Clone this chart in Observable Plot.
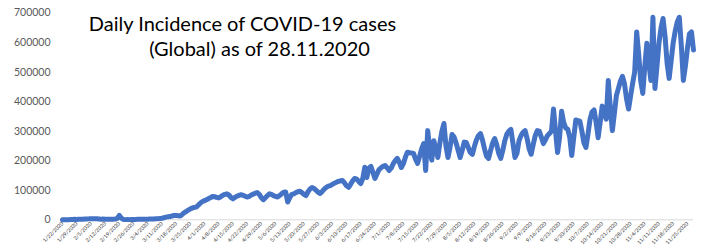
<!DOCTYPE html>
<html><head><meta charset="utf-8">
<script src="https://cdn.jsdelivr.net/npm/d3@7"></script>
<script src="https://cdn.jsdelivr.net/npm/@observablehq/plot@0.6"></script>
<style>html,body{margin:0;padding:0;background:#fff;}</style>
</head><body><div id="chart"></div>
<script>
const titleLines = ["Daily Incidence of COVID-19 cases", "(Global) as of 28.11.2020"];
const startDate = "2020-01-22";
const endDate = "2020-11-28";
const yTicks = [0, 100000, 200000, 300000, 400000, 500000, 600000, 700000];
const tickLabels = ["1/22/2020","1/29/2020","2/5/2020","2/12/2020","2/19/2020","2/26/2020","3/4/2020","3/11/2020","3/18/2020","3/25/2020","4/1/2020","4/8/2020","4/15/2020","4/22/2020","4/29/2020","5/6/2020","5/13/2020","5/20/2020","5/27/2020","6/3/2020","6/10/2020","6/17/2020","6/24/2020","7/1/2020","7/8/2020","7/15/2020","7/22/2020","7/29/2020","8/5/2020","8/12/2020","8/19/2020","8/26/2020","9/2/2020","9/9/2020","9/16/2020","9/23/2020","9/30/2020","10/7/2020","10/14/2020","10/21/2020","10/28/2020","11/4/2020","11/11/2020","11/18/2020","11/25/2020"];
// daily new cases, one per day from startDate
const cases = [
100,100,300,500,700,800,1500,1200,1700,2000,
2100,2600,2800,3200,3900,3700,3200,3400,2700,2100,
2500,2000,2000,1800,2100,2000,2400,5000,15000,5500,
1000,600,900,600,1000,1200,1300,1500,1800,1700,
1900,2200,1800,2500,2700,3000,3600,3800,4000,5000,
7000,9000,10000,11000,13000,14500,15000,14000,13000,18000,
24000,28000,33000,37000,40000,42000,43000,50000,57000,62000,
65000,68000,72000,75000,79000,78000,76000,74000,78000,83000,
86000,88000,84000,76000,71000,76000,80000,83000,85000,83000,
80000,77000,79000,84000,87000,90000,92000,86000,75000,68000,
75000,82000,88000,86000,82000,79000,77000,82000,88000,93000,
94000,60000,75000,86000,88000,92000,95000,97000,92000,86000,
82000,95000,104000,109000,106000,100000,93000,89000,96000,104000,
110000,114000,116000,120000,124000,127000,130000,132000,133000,125000,
115000,110000,120000,132000,140000,138000,130000,123000,140000,178000,
143000,175000,181000,160000,140000,155000,170000,176000,181000,184000,
176000,167000,175000,190000,200000,208000,195000,177000,190000,212000,
229000,227000,226000,225000,205000,191000,215000,240000,258000,167000,
302000,240000,202000,268000,240000,211000,260000,300000,326000,250000,
211000,245000,289000,280000,260000,235000,211000,235000,263000,262000,
245000,228000,222000,248000,270000,285000,292000,270000,240000,215000,
208000,235000,260000,275000,255000,225000,208000,235000,268000,290000,
300000,306000,260000,211000,225000,268000,285000,296000,302000,275000,
240000,222000,255000,285000,302000,300000,280000,258000,270000,285000,
292000,300000,375000,300000,228000,280000,368000,330000,311000,307000,
280000,218000,280000,338000,336000,334000,300000,260000,245000,290000,
340000,365000,372000,330000,278000,330000,385000,360000,341000,472000,
380000,302000,360000,421000,445000,470000,486000,460000,410000,375000,
420000,462000,500000,636000,560000,470000,428000,520000,598000,530000,
472000,686000,445000,520000,600000,650000,682000,620000,530000,479000,
540000,600000,640000,670000,686000,590000,472000,520000,580000,630000,
636000,575000
];

const start = new Date(startDate + "T00:00:00Z");
const end = new Date(endDate + "T00:00:00Z");
const data = cases.map((v, i) => ({date: d3.utcDay.offset(start, i), value: v}));
const parseLabel = d3.utcParse("%m/%d/%Y");
const tickDates = tickLabels.map(s => parseLabel(s));
const labelMap = new Map(tickLabels.map((s, i) => [+tickDates[i], s]));

const plot = Plot.plot({
  width: 705,
  height: 245,
  marginLeft: 62,
  marginRight: 12,
  marginTop: 12.6,
  marginBottom: 25.7,
  style: {fontFamily: "Lato, 'Open Sans', sans-serif", background: "#fff"},
  x: {type: "utc", domain: [start, end]},
  y: {domain: [0, 700000]},
  marks: [
    Plot.ruleY([0], {stroke: "#d9d9d9", strokeWidth: 1}),
    Plot.line(data, {x: "date", y: "value", stroke: "#4472C4", strokeWidth: 5, strokeLinejoin: "round", strokeLinecap: "round"}),
    Plot.axisY(yTicks, {tickSize: 0, tickPadding: 12, fontSize: 10.5, fill: "#595959", tickFormat: d => String(d), label: null}),
    Plot.axisX(tickDates, {tickRotate: -45, tickSize: 0, tickPadding: 3, fontSize: 5.3, fill: "#333", tickFormat: d => labelMap.get(+d), label: null}),
    Plot.text([titleLines[0]], {frameAnchor: "top-left", dx: 180, dy: 11.6, text: d => d, textAnchor: "middle", lineAnchor: "middle", fontSize: 20, fill: "#000"}),
    Plot.text([titleLines[1]], {frameAnchor: "top-left", dx: 197, dy: 36, text: d => d, textAnchor: "middle", lineAnchor: "middle", fontSize: 20, fill: "#000"})
  ]
});
document.getElementById("chart").appendChild(plot);
</script>
</body></html>
